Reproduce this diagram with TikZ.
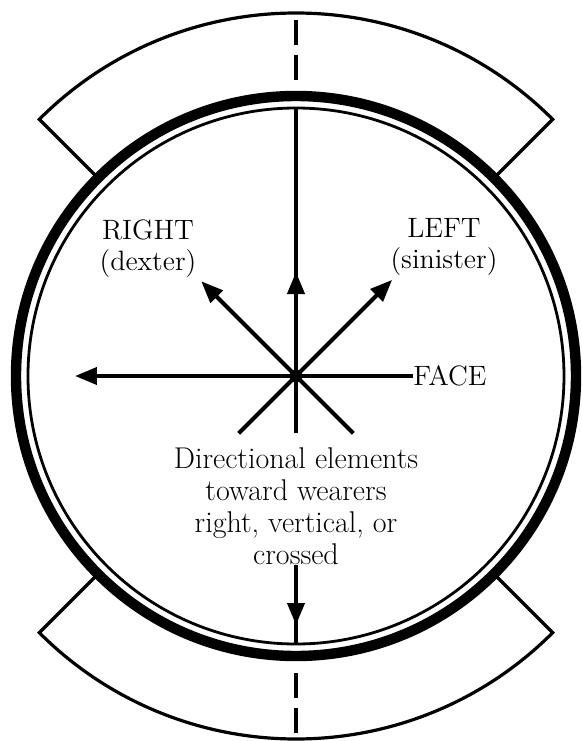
\documentclass[tikz,border=0pt]{standalone}
\usetikzlibrary{arrows.meta}
\tikzset{
  fig/.style={x=0.5pt,y=0.5pt,font=\fontsize{14}{15.5}\selectfont},
  ring/.style={line width=5.2pt},
  thinring/.style={line width=1.4pt},
  band/.style={line width=1.6pt,line join=miter},
  cut/.style={line width=1.6pt,dash pattern=on 12.5pt off 5pt},
  ln/.style={line width=2pt},
  arr/.style={ln,-{Triangle[length=11pt,width=8.5pt]}},
  hub/.style={circle,fill,inner sep=0pt,minimum size=6.5pt},
  lbl/.style={inner sep=0pt,align=center},
  notetext/.style={lbl,font=\fontsize{15}{16}\selectfont},
}

\begin{document}
\begin{tikzpicture}[fig]
\useasboundingbox (-296,-365) rectangle (286,376);

% --- the two bands, under the ring
\draw[band] (45:284) -- (45:363) arc[start angle=45,end angle=135,radius=363] -- (135:284);
\draw[band] (225:284) -- (225:363) arc[start angle=225,end angle=315,radius=363] -- (315:284);

% --- the cut line through both bands
\coordinate (cuta) at (0,356);
\coordinate (cutb) at (0,296);
\coordinate (cutc) at (0,-297);
\coordinate (cutd) at (0,-357);
\draw[cut] (cuta) -- (cutb);
\draw[cut] (cutc) -- (cutd);

% --- the ring
\draw[ring] (0,0) circle[radius=280];
\draw[thinring] (0,0) circle[radius=268];

% --- centre and labels
\node[hub] (c) at (0,0) {};
\node[lbl,anchor=west] (face) at (117,0) {FACE};
\node[lbl] (rt) at (-148,127) {RIGHT\\(dexter)};
\node[lbl] (lf) at (148,129) {LEFT\\(sinister)};
\node[notetext] (note) at (0,-130) {Directional elements\\toward wearers\\right, vertical, or\\crossed};

\coordinate (top)   at (0,267);
\coordinate (uptip) at (0,104);
\coordinate (down)  at (0,-57);
\coordinate (ltip)  at (-221,0);
\coordinate (ultip) at (135:134);
\coordinate (urtip) at (45:136);
\coordinate (llend) at (225:81);
\coordinate (lrend) at (315:81);
\coordinate (bot)   at (0,-267);
\coordinate (dntip) at (0,-249);

% --- the directions
\draw[arr] (face.west) -- (ltip);
\draw[ln] (down) -- (top);
\draw[arr] (down) -- (uptip);
\draw[arr] (lrend) -- (ultip);
\draw[arr] (llend) -- (urtip);
\draw[ln] (note.south) -- (bot);
\draw[arr] (note.south) -- (dntip);

\end{tikzpicture}
\end{document}
